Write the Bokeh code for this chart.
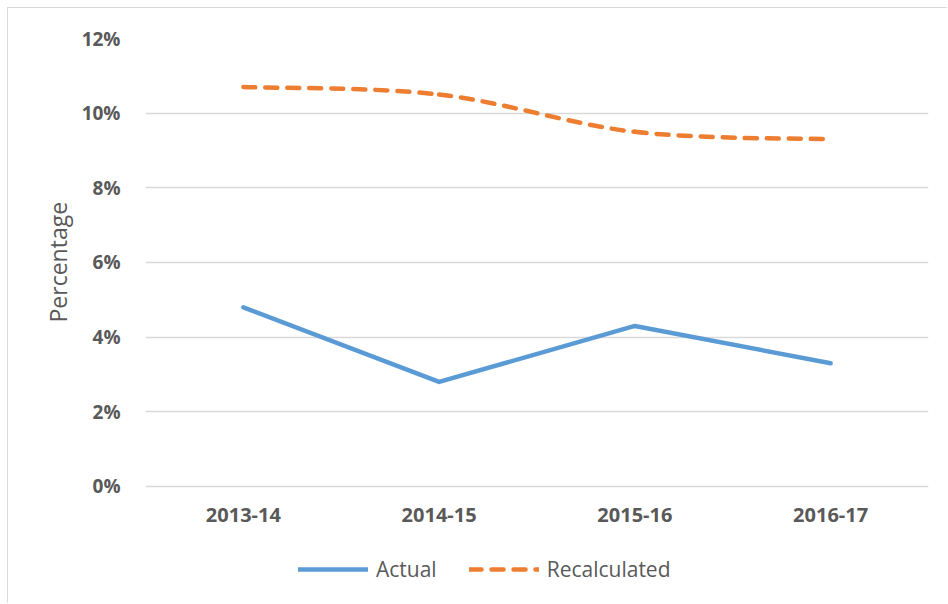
from bokeh.plotting import figure
from bokeh.models import Range1d, FixedTicker, Legend, LegendItem, ColumnDataSource, Title
from bokeh.embed import file_html
from bokeh.resources import INLINE

categories = ["2013-14", "2014-15", "2015-16", "2016-17"]
actual = [4.8, 2.8, 4.3, 3.3]
recalculated = [10.7, 10.5, 9.5, 9.3]
y_ticks = [0, 2, 4, 6, 8, 10, 12]

BLUE = "#5B9BD5"
ORANGE = "#ED7D31"
GRAY = "#595959"
FONT = "Open Sans"

xs = [i + 0.5 for i in range(len(categories))]

# frame spans down to the legend; the 0% baseline sits 114 px above the frame bottom
p = figure(width=940, height=596, output_backend="svg", toolbar_location=None,
           x_range=Range1d(0, len(categories)), y_range=Range1d(-3.054, 12),
           min_border_left=137, min_border_right=20, min_border_top=30, min_border_bottom=4)
p.styles = {"margin-left": "8px", "margin-top": "8px", "box-shadow": "-1px -1px 0 0 #d9d9d9"}
p.outline_line_color = None
p.background_fill_color = "white"
p.border_fill_color = "white"

# axes
p.xaxis.ticker = FixedTicker(ticks=xs)
p.xaxis.major_label_overrides = {x: c for x, c in zip(xs, categories)}
p.xaxis.fixed_location = 0
p.yaxis.ticker = FixedTicker(ticks=y_ticks)
p.yaxis.major_label_overrides = {t: f"{t}%" for t in y_ticks}
for ax in (p.xaxis[0], p.yaxis[0]):
    ax.axis_line_color = None
    ax.major_tick_line_color = None
    ax.minor_tick_line_color = None
    ax.major_label_text_font = FONT
    ax.major_label_text_font_style = "bold"
    ax.major_label_text_color = GRAY
p.yaxis.major_label_text_font_size = "19px"
p.xaxis.major_label_text_font_size = "20px"
p.xaxis.major_label_standoff = 16
p.yaxis.major_label_standoff = 19

p.add_layout(Title(text="Percentage", align="left", offset=278, text_font=FONT,
                   text_font_style="normal", text_font_size="23px", text_color=GRAY), "left")

p.xgrid.grid_line_color = None
p.ygrid.ticker = FixedTicker(ticks=y_ticks)
p.ygrid.grid_line_color = "#d9d9d9"
p.ygrid.grid_line_width = 1.3

# Actual line
r_actual = p.line(xs, actual, line_color=BLUE, line_width=4.5, line_cap="round", line_join="round")

# Recalculated smoothed (Bezier through the data points)
n = len(xs)
x0, y0, x1, y1, cx0, cy0, cx1, cy1 = [], [], [], [], [], [], [], []
for i in range(n - 1):
    pxm, pym = (xs[i - 1], recalculated[i - 1]) if i > 0 else (xs[i], recalculated[i])
    pxa, pya = xs[i], recalculated[i]
    pxb, pyb = xs[i + 1], recalculated[i + 1]
    pxp, pyp = (xs[i + 2], recalculated[i + 2]) if i + 2 < n else (xs[i + 1], recalculated[i + 1])
    x0.append(pxa); y0.append(pya); x1.append(pxb); y1.append(pyb)
    cx0.append(pxa + (pxb - pxm) / 6); cy0.append(pya + (pyb - pym) / 6)
    cx1.append(pxb - (pxp - pxa) / 6); cy1.append(pyb - (pyp - pya) / 6)
src = ColumnDataSource(dict(x0=x0, y0=y0, x1=x1, y1=y1, cx0=cx0, cy0=cy0, cx1=cx1, cy1=cy1))
r_recalc = p.bezier(x0="x0", y0="y0", x1="x1", y1="y1", cx0="cx0", cy0="cy0", cx1="cx1", cy1="cy1",
                    source=src, line_color=ORANGE, line_width=4.5, line_cap="round", line_dash="12 10")

legend = Legend(items=[LegendItem(label="Actual", renderers=[r_actual]),
                       LegendItem(label="Recalculated", renderers=[r_recalc])],
                orientation="horizontal", location=(153, 17),
                glyph_width=70, glyph_height=20, label_standoff=8, spacing=32,
                padding=5, margin=0, border_line_color=None, background_fill_alpha=0,
                label_text_font=FONT, label_text_font_size="21px", label_text_color=GRAY)
p.add_layout(legend, "center")

open("out.html", "w").write(file_html(p, INLINE))
